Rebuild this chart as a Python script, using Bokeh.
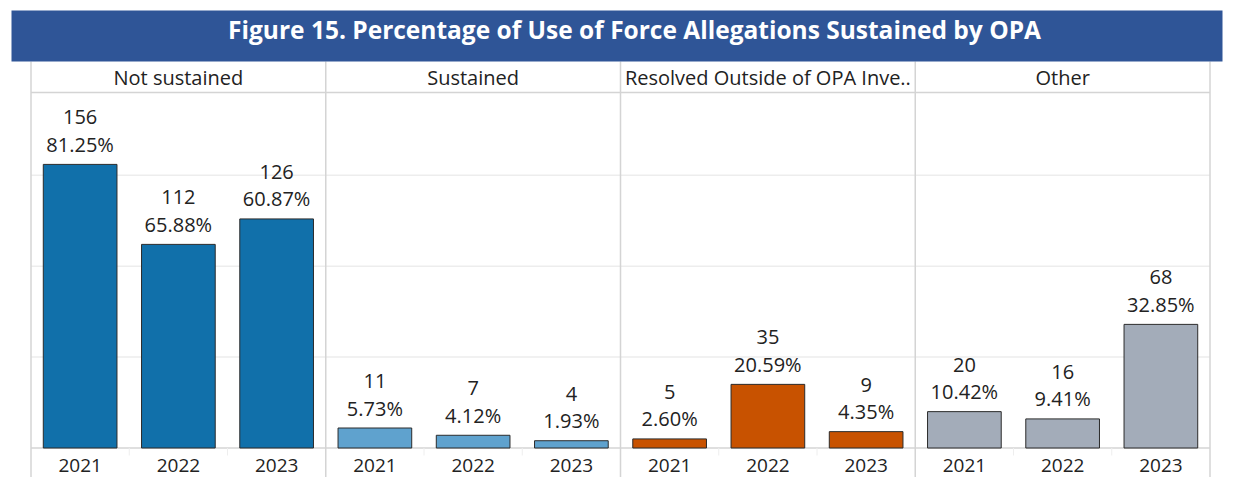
from bokeh.plotting import figure
from bokeh.models import ColumnDataSource, Range1d
from bokeh.core.properties import value
from bokeh.embed import file_html
from bokeh.resources import INLINE

# ---------------- data ----------------
title_text = "Figure 15. Percentage of Use of Force Allegations Sustained by OPA"
categories = ["Not sustained", "Sustained", "Resolved Outside of OPA Inve..", "Other"]
years = ["2021", "2022", "2023"]
counts_not_sustained = [156, 112, 126]
counts_sustained = [11, 7, 4]
counts_resolved = [5, 35, 9]
counts_other = [20, 16, 68]
pct_not_sustained = ["81.25%", "65.88%", "60.87%"]
pct_sustained = ["5.73%", "4.12%", "1.93%"]
pct_resolved = ["2.60%", "20.59%", "4.35%"]
pct_other = ["10.42%", "9.41%", "32.85%"]
category_colors = ["#1170AA", "#5FA2CE", "#C85200", "#A3ACB9"]

all_counts = [counts_not_sustained, counts_sustained, counts_resolved, counts_other]
all_pcts = [pct_not_sustained, pct_sustained, pct_resolved, pct_other]

# ---------------- layout (page pixels) ----------------
W, H = 1248, 477
PAGE_X0, PAGE_Y0 = 0, 0
PANEL_LEFT, PANEL_RIGHT = 30.5, 1209.5
BASE_Y = 447.5
PX_PER_UNIT = 1.818
n_slots = len(categories) * len(years)
slot_px = (PANEL_RIGHT - PANEL_LEFT) / n_slots

x_start = -(PANEL_LEFT - PAGE_X0) / slot_px
x_end = n_slots + (PAGE_X0 + W - PANEL_RIGHT) / slot_px
y_end = (BASE_Y - PAGE_Y0) / PX_PER_UNIT
y_start = -(PAGE_Y0 + H - BASE_Y) / PX_PER_UNIT


def xp(px):
    return x_start + (px - PAGE_X0) / slot_px


def yp(py):
    return (BASE_Y - py) / PX_PER_UNIT


xs, tops, pcts, cnt_txt, yrs, cols = [], [], [], [], [], []
for gi, cat in enumerate(categories):
    for yi, yr in enumerate(years):
        xs.append(gi * len(years) + yi + 0.5)
        tops.append(all_counts[gi][yi])
        cnt_txt.append(str(all_counts[gi][yi]))
        pcts.append(all_pcts[gi][yi])
        yrs.append(yr)
        cols.append(category_colors[gi])

src = ColumnDataSource(dict(x=xs, top=tops, pct=pcts, cnt=cnt_txt, year=yrs, color=cols))

p = figure(width=W, height=H, x_range=Range1d(x_start, x_end), y_range=Range1d(y_start, y_end),
           output_backend="svg", toolbar_location=None, x_axis_location=None, y_axis_location=None,
           min_border=0, min_border_left=0, min_border_right=0, min_border_top=0, min_border_bottom=0)
p.outline_line_color = None
p.background_fill_color = "white"
p.border_fill_color = "white"
p.grid.visible = False

FONT = value("Open Sans")
TXT = "#222222"

# gridlines
grid_ticks = [50, 100, 150]
p.segment(x0=[0] * 3, x1=[n_slots] * 3, y0=grid_ticks, y1=grid_ticks, line_color="#EDEDED", line_width=1.5)
# baseline
p.segment(x0=[0], x1=[n_slots], y0=[0], y1=[0], line_color="#D4D4D4", line_width=1.5)
# small separators between years below the baseline
minor = [g * len(years) + k for g in range(len(categories)) for k in range(1, len(years))]
p.segment(x0=minor, x1=minor, y0=[0] * len(minor), y1=[yp(455)] * len(minor),
          line_color="#EEEEEE", line_width=1)
# header bottom line
p.segment(x0=[0], x1=[n_slots], y0=[yp(92)], y1=[yp(92)], line_color="#D4D4D4", line_width=1.5)
# panel separators
seps = [g * len(years) for g in range(len(categories) + 1)]
p.segment(x0=seps, x1=seps, y0=[yp(61)] * len(seps), y1=[y_start] * len(seps),
          line_color="#D4D4D4", line_width=1.5)

# title band
p.quad(left=[xp(11)], right=[xp(1222)], bottom=[yp(61)], top=[yp(10)], fill_color="#2F5597", line_color=None)
p.text(x=[xp(634)], y=[yp(29)], text=[title_text], text_font=value("Open Sans"), text_font_style="bold",
       text_font_size="24.5px", text_color="white", text_align="center", text_baseline="middle")

# headers
p.text(x=[g * len(years) + len(years) / 2 for g in range(len(categories))], y=[yp(77)] * len(categories),
       text=categories, text_font=FONT, text_font_size="20px", text_color=TXT,
       text_align="center", text_baseline="middle")

# bars
p.vbar(x="x", top="top", width=0.75, bottom=0, fill_color="color", line_color="#2B2B2B", line_width=1,
       source=src)

# value labels
p.text(x="x", y="top", text="pct", y_offset=-20, source=src, text_font=FONT, text_font_size="20px",
       text_color=TXT, text_align="center", text_baseline="middle")
p.text(x="x", y="top", text="cnt", y_offset=-47, source=src, text_font=FONT, text_font_size="20px",
       text_color=TXT, text_align="center", text_baseline="middle")

# year labels
p.text(x="x", y=yp(465), text="year", source=src, text_font=FONT, text_font_size="19px",
       text_color=TXT, text_align="center", text_baseline="middle")

open("out.html", "w").write(file_html(p, INLINE))
